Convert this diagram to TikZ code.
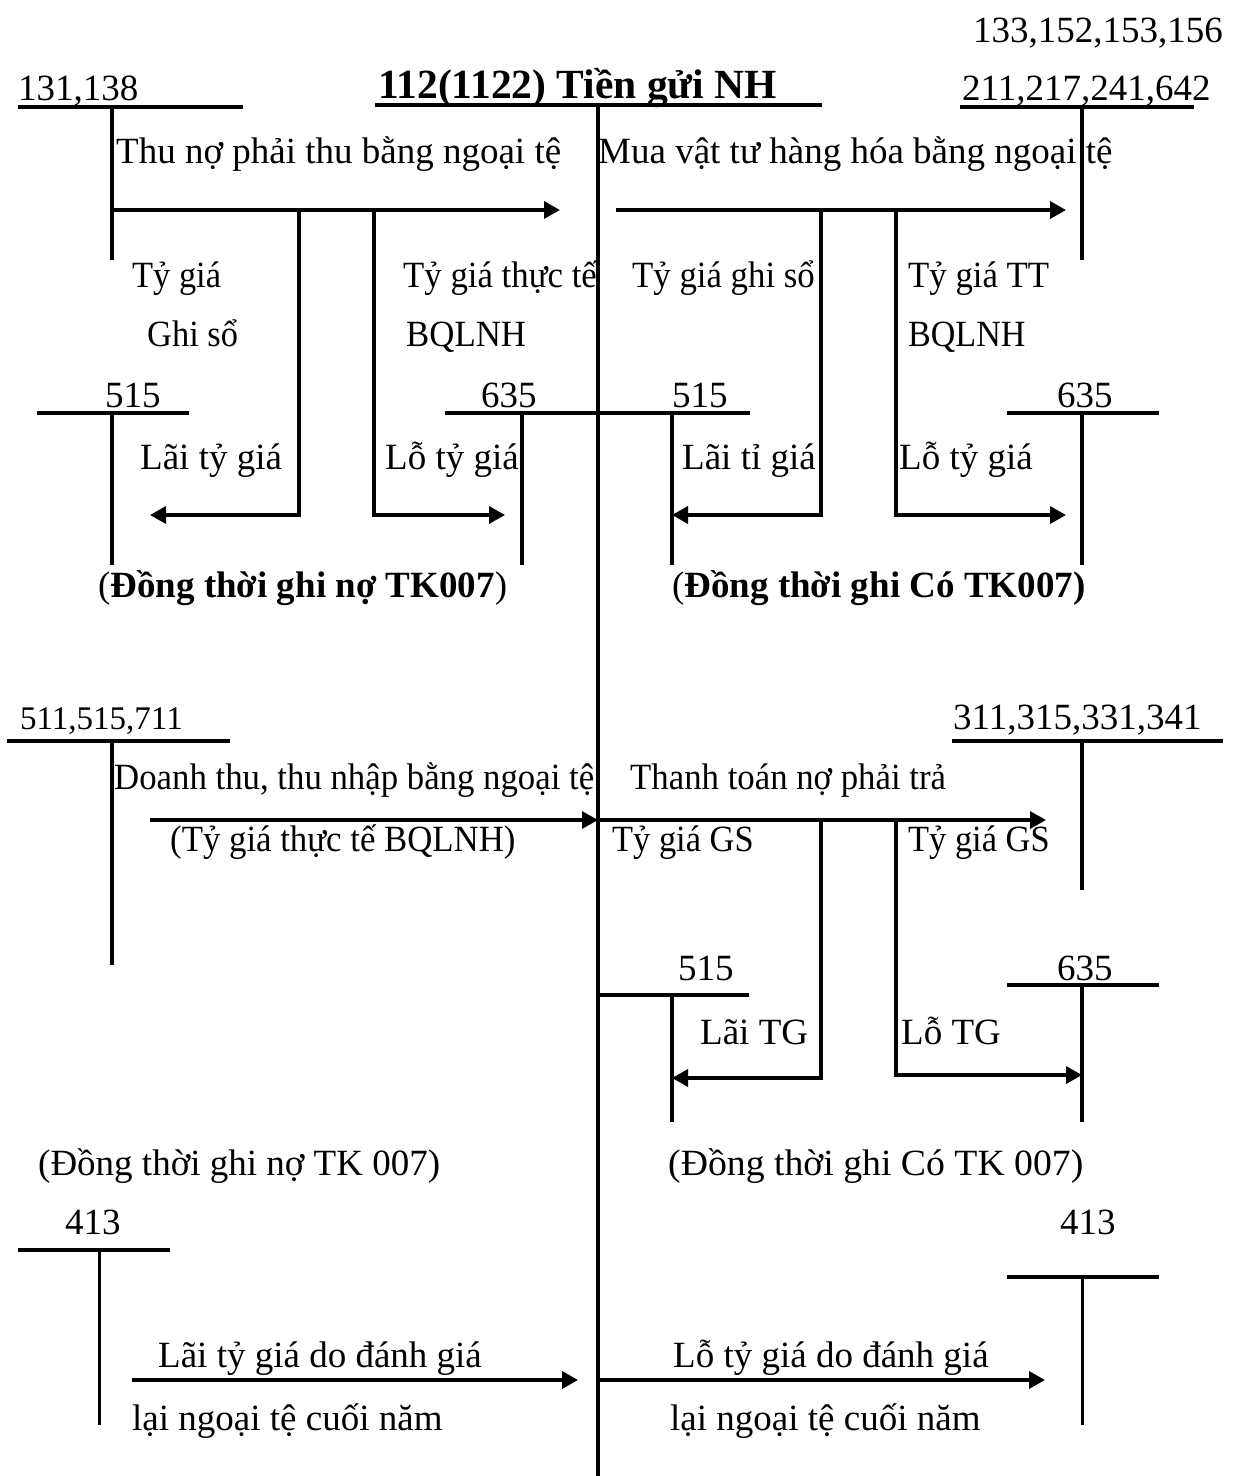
\documentclass[tikz,border=0pt]{standalone}
\usepackage{fontspec}
\usepackage{graphicx}
\setmainfont{Liberation Serif}
\usetikzlibrary{arrows.meta}

% slightly condensed label text
\newcommand{\narrowtext}[2][0.94]{\scalebox{#1}[1]{#2}}

\begin{document}
\begin{tikzpicture}[x=1pt,y=-1pt,
  ln/.style={line width=3.5pt},
  arr/.style={line width=3.5pt,-{Triangle[length=16pt,width=17pt]}},
  lbl/.style={anchor=base west,inner sep=0pt,font=\fontsize{37}{44}\selectfont},
  lblsmall/.style={anchor=base west,inner sep=0pt,font=\fontsize{33}{40}\selectfont},
  ttl/.style={anchor=base west,inner sep=0pt,font=\fontsize{41.5}{48}\selectfont\bfseries},
]
\useasboundingbox[fill=white] (0,0) rectangle (1240,1476);

% ---------- main account 112 ----------
\node[ttl] (main) at (378,98) {112(1122) Tiền gửi NH};
\coordinate (mainL) at (375,105);
\coordinate (mainR) at (822,105);
\coordinate (mainT) at (598,105);
\coordinate (mainB) at (598,1476);
\draw[ln] (mainL) -- (mainR);
\draw[ln] (mainT) -- (mainB);

% ---------- block 1: collections and purchases ----------
\node[lbl] (a131) at (18,100) {131,138};
\draw[ln] (18,107) -- (243,107);
\coordinate (a131top) at (112,107);
\coordinate (a131bot) at (112,260);
\draw[ln] (a131top) -- (a131bot);

\node[lbl] (a133) at (973,42) {133,152,153,156};
\node[lbl] (a211) at (962,100) {211,217,241,642};
\draw[ln] (960,107) -- (1194,107);
\coordinate (a211top) at (1082,107);
\coordinate (a211bot) at (1082,260);
\draw[ln] (a211top) -- (a211bot);

\node[lbl] (thuno) at (116,163) {Thu nợ phải thu bằng ngoại tệ};
\node[lbl] (muavt) at (598,163) {Mua vật tư hàng hóa bằng ngoại tệ};

\coordinate (f1s) at (112,210);
\coordinate (f1e) at (560,210);
\draw[arr] (f1s) -- (f1e);
\coordinate (f2s) at (616,210);
\coordinate (f2e) at (1066,210);
\draw[arr] (f2s) -- (f2e);

\node[lbl] (tg1) at (132,287) {\narrowtext[0.93]{Tỷ giá}};
\node[lbl] (gs1) at (147,346) {\narrowtext[0.93]{Ghi sổ}};
\node[lbl] (tt1) at (403,287) {\narrowtext{Tỷ giá thực tế}};
\node[lbl] (bq1) at (406,346) {\narrowtext{BQLNH}};
\node[lbl] (tg2) at (632,287) {\narrowtext{Tỷ giá ghi sổ}};
\node[lbl] (tt2) at (908,287) {\narrowtext{Tỷ giá TT}};
\node[lbl] (bq2) at (908,346) {\narrowtext[0.92]{BQLNH}};

% small T-accounts of block 1
\node[lbl] (n515a) at (105,407) {515};
\draw[ln] (37,413) -- (189,413);
\draw[ln] (112,413) -- (112,565);

\node[lbl] (n635a) at (481,407) {635};
\node[lbl] (n515b) at (672,407) {515};
\draw[ln] (445,413) -- (750,413);
\draw[ln] (522,413) -- (522,565);
\draw[ln] (672,413) -- (672,565);

\node[lbl] (n635b) at (1057,407) {635};
\draw[ln] (1007,413) -- (1159,413);
\draw[ln] (1082,413) -- (1082,565);

% exchange differences of block 1
\draw[arr] (299,210) |- (150,515);
\draw[arr] (374,210) |- (505,515);
\draw[arr] (821,210) |- (672,515);
\draw[arr] (896,210) |- (1066,515);

\node[lbl] (lai1) at (140,469) {Lãi tỷ giá};
\node[lbl] (lo1) at (385,469) {Lỗ tỷ giá};
\node[lbl] (lai2) at (682,469) {Lãi tỉ giá};
\node[lbl] (lo2) at (899,469) {Lỗ tỷ giá};

\node[lbl] (dt1) at (98,597) {(\textbf{Đồng thời ghi nợ TK007})};
\node[lbl] (dt2) at (672,597) {(\textbf{Đồng thời ghi Có TK007)}};

% ---------- block 2: revenue and payables ----------
\node[lblsmall] (a511) at (20,729) {511,515,711};
\draw[ln] (7,741) -- (230,741);
\draw[ln] (112,741) -- (112,965);

\node[lbl] (a311) at (953,729) {311,315,331,341};
\draw[ln] (952,741) -- (1223,741);
\draw[ln] (1082,741) -- (1082,890);

\node[lbl] (doanhthu) at (114,789) {\narrowtext{Doanh thu, thu nhập bằng ngoại tệ}};
\node[lbl] (thanhtoan) at (630,789) {\narrowtext{Thanh toán nợ phải trả}};
\coordinate (f3s) at (150,820);
\coordinate (f3e) at (598,820);
\draw[arr] (f3s) -- (f3e);
\coordinate (f4e) at (1046,820);
\draw[arr] (f3e) -- (f4e);

\node[lbl] (bq3) at (170,851) {\narrowtext{(Tỷ giá thực tế BQLNH)}};
\node[lbl] (gs3) at (612,851) {\narrowtext[0.93]{Tỷ giá GS}};
\node[lbl] (gs4) at (908,851) {\narrowtext[0.93]{Tỷ giá GS}};

\node[lbl] (n515c) at (678,980) {515};
\draw[ln] (598,995) -- (749,995);
\draw[ln] (672,995) -- (672,1122);

\node[lbl] (n635c) at (1057,980) {635};
\draw[ln] (1007,985) -- (1159,985);
\draw[ln] (1082,985) -- (1082,1122);

\draw[arr] (821,820) |- (672,1078);
\draw[arr] (896,820) |- (1082,1075);

\node[lbl] (lai3) at (700,1044) {Lãi TG};
\node[lbl] (lo3) at (901,1044) {Lỗ TG};

\node[lbl] (dt3) at (38,1175) {(Đồng thời ghi nợ TK 007)};
\node[lbl] (dt4) at (668,1175) {\narrowtext[1.02]{(Đồng thời ghi Có TK 007)}};

% ---------- block 3: year-end revaluation ----------
\node[lbl] (a413a) at (65,1234) {413};
\draw[ln] (18,1250) -- (170,1250);
\draw[line width=3pt] (99,1250) -- (99,1425);

\node[lbl] (a413b) at (1060,1234) {413};
\draw[ln] (1007,1277) -- (1159,1277);
\draw[line width=3pt] (1082,1277) -- (1082,1425);

\draw[arr] (132,1380) -- (578,1380);
\draw[arr] (598,1380) -- (1045,1380);

\node[lbl] (lai4) at (158,1367) {Lãi tỷ giá do đánh giá};
\node[lbl] (ng4) at (132,1430) {lại ngoại tệ cuối năm};
\node[lbl] (lo4) at (673,1367) {Lỗ tỷ giá do đánh giá};
\node[lbl] (ng5) at (670,1430) {lại ngoại tệ cuối năm};
\end{tikzpicture}
\end{document}
